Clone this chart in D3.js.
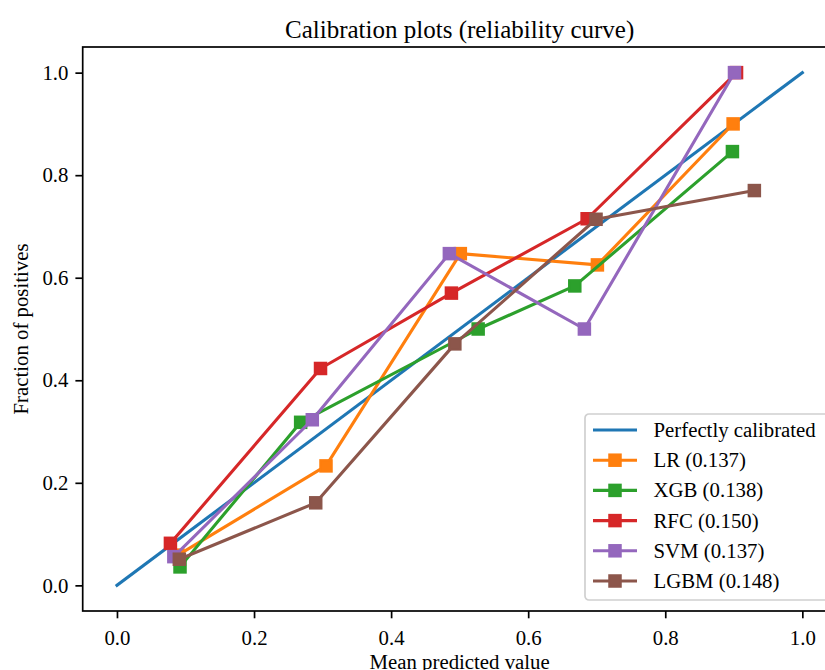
<!DOCTYPE html>
<html>
<head>
<meta charset="utf-8">
<script src="https://cdn.jsdelivr.net/npm/d3@7"></script>
<style>
  html, body { margin: 0; padding: 0; background: #fff; overflow: hidden; }
  svg { display: block; font-family: "Liberation Serif", "Times New Roman", serif; }
</style>
</head>
<body>
<div id="chart"></div>
<script>
// values
const seriesNames = ['LR (0.137)', 'XGB (0.138)', 'RFC (0.150)', 'SVM (0.137)', 'LGBM (0.148)'];
const seriesColors = ['#ff7f0e', '#2ca02c', '#d62728', '#9467bd', '#8c564b'];

const lrX   = [0.089, 0.305, 0.501, 0.701, 0.899];
const lrY   = [0.059, 0.233, 0.647, 0.625, 0.900];
const xgbX  = [0.092, 0.268, 0.527, 0.668, 0.898];
const xgbY  = [0.036, 0.318, 0.500, 0.584, 0.846];
const rfcX  = [0.078, 0.297, 0.488, 0.686, 0.904];
const rfcY  = [0.082, 0.423, 0.570, 0.715, 1.000];
const svmX  = [0.083, 0.285, 0.485, 0.682, 0.901];
const svmY  = [0.056, 0.323, 0.647, 0.500, 1.000];
const lgbmX = [0.091, 0.290, 0.493, 0.699, 0.930];
const lgbmY = [0.051, 0.161, 0.471, 0.714, 0.770];

const perfectX = [0, 1];
const perfectY = [0, 1];

const tickValues = [0.0, 0.2, 0.4, 0.6, 0.8, 1.0];

const W = 825, H = 670;
const box = { left: 82.7, top: 47, right: 836.6, bottom: 611 };

const svg = d3.select('#chart').append('svg')
  .attr('width', W).attr('height', H);

const x = d3.scaleLinear().domain([-0.05, 1.05]).range([box.left, box.right]);
const y = d3.scaleLinear().domain([-0.05, 1.05]).range([box.bottom, box.top]);

const fmt = d3.format('.1f');

// axes
const xAxis = svg.append('g')
  .attr('transform', `translate(0,${box.bottom})`)
  .call(d3.axisBottom(x).tickValues(tickValues).tickFormat(fmt).tickSize(7.3).tickPadding(7));
const yAxis = svg.append('g')
  .attr('transform', `translate(${box.left},0)`)
  .call(d3.axisLeft(y).tickValues(tickValues).tickFormat(fmt).tickSize(7.3).tickPadding(7));

[xAxis, yAxis].forEach(g => {
  g.select('.domain').remove();
  g.selectAll('.tick line').attr('stroke', '#000').attr('stroke-width', 1.7);
  g.selectAll('.tick text')
    .attr('fill', '#000')
    .style('font-family', '"Liberation Serif", serif')
    .style('font-size', '20.8px');
});
xAxis.selectAll('.tick text').attr('dy', '0.95em');

// frame
svg.append('rect')
  .attr('x', box.left).attr('y', box.top)
  .attr('width', box.right - box.left).attr('height', box.bottom - box.top)
  .attr('fill', 'none').attr('stroke', '#000').attr('stroke-width', 1.7);

const line = d3.line().x(d => x(d[0])).y(d => y(d[1]));

// perfectly calibrated diagonal
svg.append('path')
  .datum(d3.zip(perfectX, perfectY))
  .attr('d', line)
  .attr('fill', 'none')
  .attr('stroke', '#1f77b4')
  .attr('stroke-width', 3.1)
  .attr('stroke-linecap', 'square');

const allX = [lrX, xgbX, rfcX, svmX, lgbmX];
const allY = [lrY, xgbY, rfcY, svmY, lgbmY];
const MS = 11.5;

seriesNames.forEach((name, i) => {
  const pts = d3.zip(allX[i], allY[i]);
  const g = svg.append('g');
  g.append('path')
    .datum(pts)
    .attr('d', line)
    .attr('fill', 'none')
    .attr('stroke', seriesColors[i])
    .attr('stroke-width', 3.1)
    .attr('stroke-linejoin', 'round')
    .attr('stroke-linecap', 'square');
  g.selectAll('rect')
    .data(pts)
    .join('rect')
    .attr('x', d => x(d[0]) - MS / 2)
    .attr('y', d => y(d[1]) - MS / 2)
    .attr('width', MS).attr('height', MS)
    .attr('fill', seriesColors[i])
    .attr('stroke', seriesColors[i])
    .attr('stroke-width', 2);
});

// title + axis labels
svg.append('text')
  .attr('x', (box.left + box.right) / 2).attr('y', 38)
  .attr('text-anchor', 'middle')
  .style('font-size', '25px')
  .text('Calibration plots (reliability curve)');

svg.append('text')
  .attr('x', (box.left + box.right) / 2).attr('y', 669)
  .attr('text-anchor', 'middle')
  .style('font-size', '20.8px')
  .text('Mean predicted value');

svg.append('text')
  .attr('transform', `translate(28,${(box.top + box.bottom) / 2}) rotate(-90)`)
  .attr('text-anchor', 'middle')
  .style('font-size', '20.8px')
  .text('Fraction of positives');

// legend
const legend = svg.append('g').attr('transform', 'translate(585,414)');
legend.append('rect')
  .attr('width', 262).attr('height', 186)
  .attr('rx', 4)
  .attr('fill', 'rgba(255,255,255,0.8)')
  .attr('stroke', '#d0d0d0')
  .attr('stroke-width', 1.7);

const legendNames = ['Perfectly calibrated'].concat(seriesNames);
const legendColors = ['#1f77b4'].concat(seriesColors);

legendNames.forEach((name, i) => {
  const cy = 16 + i * 30.2;
  const row = legend.append('g').attr('transform', `translate(0,${cy})`);
  row.append('line')
    .attr('x1', 8).attr('x2', 52)
    .attr('stroke', legendColors[i])
    .attr('stroke-width', 3.1);
  if (i > 0) {
    row.append('rect')
      .attr('x', 30 - MS / 2).attr('y', -MS / 2)
      .attr('width', MS).attr('height', MS)
      .attr('fill', legendColors[i])
      .attr('stroke', legendColors[i])
      .attr('stroke-width', 2);
  }
  row.append('text')
    .attr('x', 68.5).attr('y', 7)
    .style('font-size', '20.8px')
    .text(name);
});
</script>
</body>
</html>
